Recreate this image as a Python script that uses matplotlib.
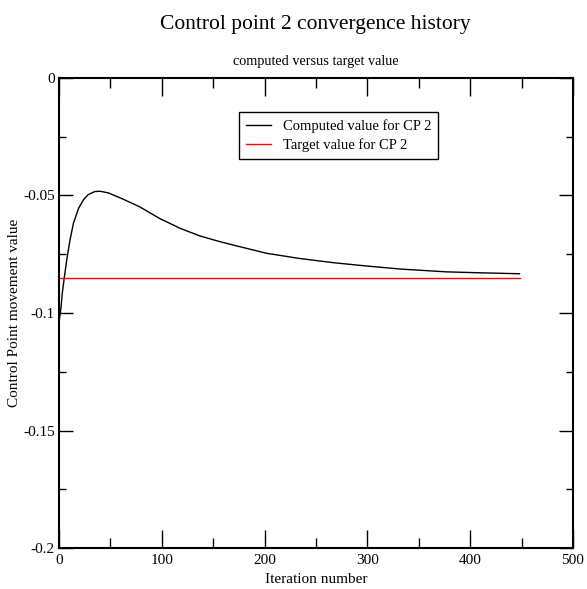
import matplotlib
matplotlib.use("Agg")
import matplotlib.pyplot as plt
from matplotlib.ticker import MultipleLocator

# computed control point movement
iters = [0, 2, 3.2, 5.2, 7.5, 10.7, 14, 19, 24, 28.5, 35, 40, 48, 61, 78,
         98, 118, 137, 157, 176, 202, 234, 267, 299, 332, 377, 410, 448]
computed = [-0.104, -0.0975, -0.0916, -0.0848, -0.0775, -0.0690, -0.0619,
            -0.0555, -0.0517, -0.0496, -0.0483, -0.0482, -0.0489, -0.0513,
            -0.0547, -0.0598, -0.0640, -0.0672, -0.0697, -0.0718, -0.0746,
            -0.0768, -0.0786, -0.0800, -0.0813, -0.0825, -0.0829, -0.0833]

target_x = [0, 448]
target = [-0.085, -0.085]

ytick_vals = [-0.2, -0.15, -0.1, -0.05, 0]
ytick_labels = ['-0.2', '-0.15', '-0.1', '-0.05', '0']

plt.rcParams['font.family'] = ['Liberation Serif', 'DejaVu Serif']

fig = plt.figure(figsize=(5.87, 5.89), dpi=100)
ax = fig.add_axes([0.1005, 0.0696, 0.8756, 0.798])

ax.plot(iters, computed, color='black', lw=1.0, label='Computed value for CP 2')
ax.plot(target_x, target, color='red', lw=1.0, label='Target value for CP 2')

ax.set_xlim(0, 500)
ax.set_ylim(-0.2, 0)
ax.xaxis.set_major_locator(MultipleLocator(100))
ax.xaxis.set_minor_locator(MultipleLocator(50))
ax.set_yticks(ytick_vals)
ax.set_yticklabels(ytick_labels)
ax.yaxis.set_minor_locator(MultipleLocator(0.025))

ax.tick_params(which='both', direction='in', top=True, right=True, labelsize=11, width=1.0)
ax.tick_params(axis='x', which='major', length=13, pad=4)
ax.tick_params(axis='x', which='minor', length=7)
ax.tick_params(axis='y', which='major', length=10, pad=3)
ax.tick_params(axis='y', which='minor', length=5)
for s in ax.spines.values():
    s.set_linewidth(1.5)

ax.set_xlabel('Iteration number', fontsize=11)
ax.xaxis.set_label_coords(0.5, -0.053)
ax.set_ylabel('Control Point movement value', fontsize=11, va='center')
ax.yaxis.set_label_coords(-0.086, 0.5)

fig.text(0.538, 0.958, 'Control point 2 convergence history', ha='center', va='center', fontsize=15.5)
fig.text(0.538, 0.895, 'computed versus target value', ha='center', va='center', fontsize=10.3)

leg = ax.legend(loc='upper left', bbox_to_anchor=(0.35, 0.928), fontsize=10.5,
                frameon=True, fancybox=False, edgecolor='black', framealpha=1,
                handlelength=1.7, handletextpad=0.8, borderpad=0.5, labelspacing=0.35,
                borderaxespad=0)
leg.get_frame().set_linewidth(1.0)

fig.savefig('out.png', dpi=100)
